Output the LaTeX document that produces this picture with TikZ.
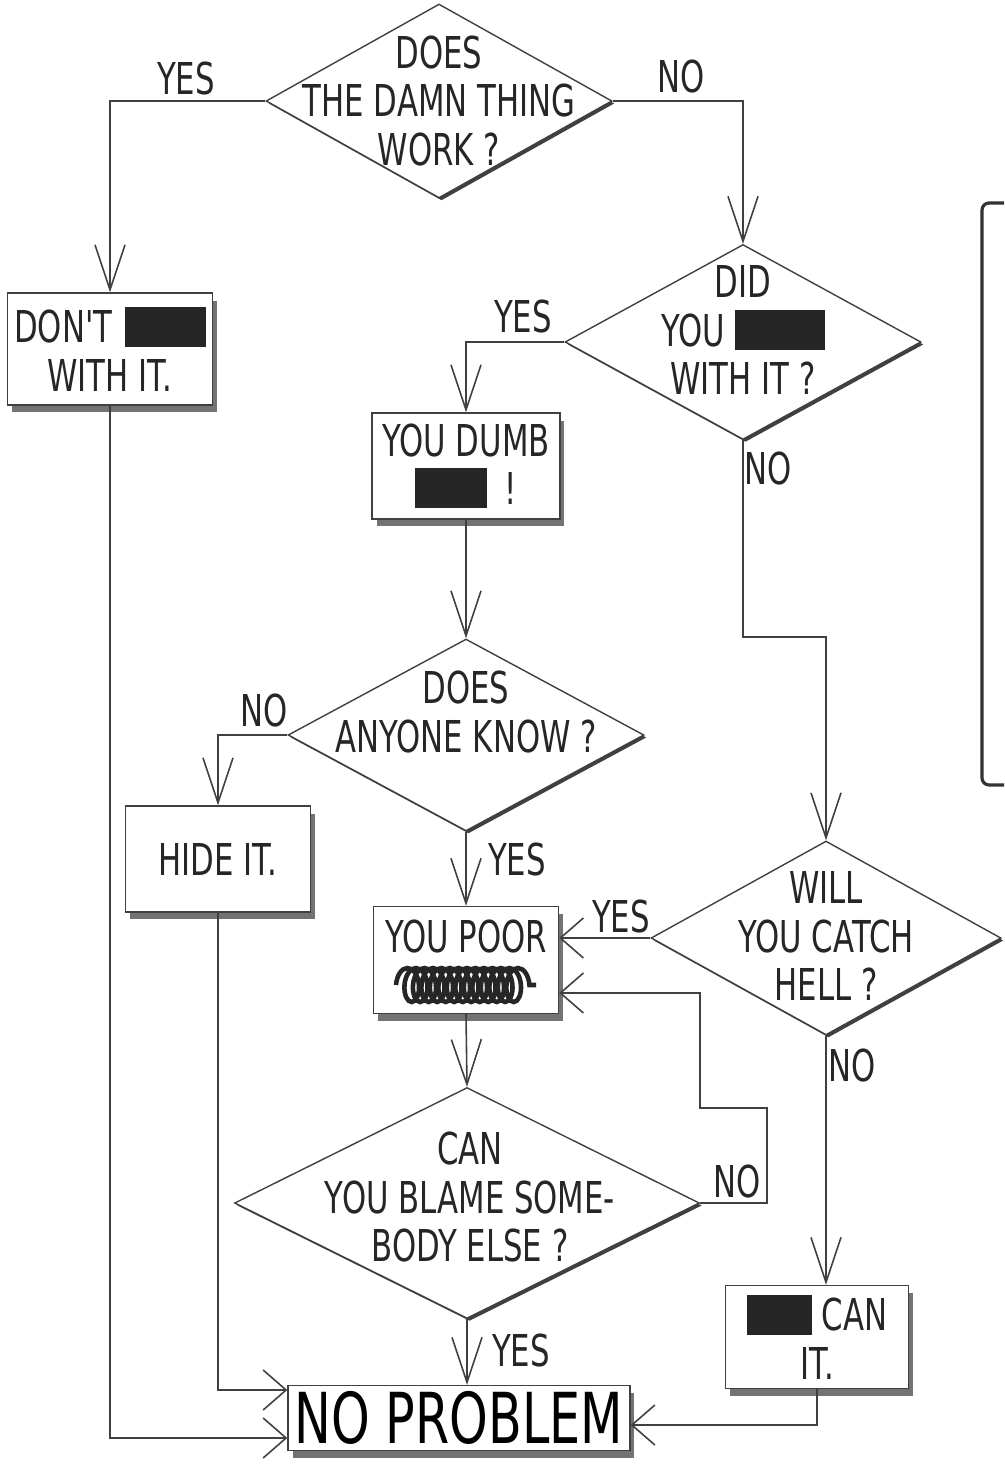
\documentclass[tikz,border=0pt]{standalone}
\usepackage{fontspec}
\usepackage{tikz}
\usetikzlibrary{shapes.geometric,shadows,arrows.meta,decorations.pathmorphing}
\newfontfamily\dotfont[FakeStretch=0.7]{DejaVu Sans}
\newcommand{\chartfont}{\dotfont\fontsize{25}{27.5}\selectfont}
\newcommand{\bigchartfont}{\dotfont\fontsize{40}{42}\selectfont}
\newcommand{\blackout}[1]{\rule[-0.08cm]{#1}{0.8cm}}
\begin{document}
\begin{tikzpicture}[x=0.02cm, y=-0.02cm,
    decision/.style={diamond, draw=black!75, line width=0.8pt, fill=white, inner sep=0pt,
        drop shadow={shadow xshift=0.05cm, shadow yshift=-0.05cm, fill=black!75, opacity=1}},
    card/.style={rectangle, draw=black!75, line width=0.8pt, fill=white, align=center,
        font=\chartfont, text=black!85, inner sep=0pt,
        drop shadow={shadow xshift=0.09cm, shadow yshift=-0.15cm, fill=black!55, opacity=1}},
    question/.style={align=center, font=\chartfont, text=black!85, inner sep=0pt},
    answer/.style={font=\chartfont, text=black!85, inner sep=0pt},
    vflow/.style={draw=black!75, line width=0.9pt, -{Straight Barb[length=0.9cm, width=0.6cm]}},
    hflow/.style={draw=black!75, line width=0.9pt, -{Straight Barb[length=0.46cm, width=0.8cm]}},
    scribble/.style={draw=black!85, line width=2.6pt, decorate,
        decoration={coil, amplitude=0.34cm, segment length=0.17cm, aspect=0.55}}]

\useasboundingbox (0,0) rectangle (1004,1469);

% Decisions
\node[decision, minimum width=6.92cm, minimum height=3.88cm] (q1) at (439,101) {};
\node[decision, minimum width=7.12cm, minimum height=3.9cm]  (q2) at (743,342) {};
\node[decision, minimum width=7.12cm, minimum height=3.84cm] (q3) at (466,735) {};
\node[decision, minimum width=7.0cm,  minimum height=3.88cm] (q4) at (826,938) {};
\node[decision, minimum width=9.3cm,  minimum height=4.62cm] (q5) at (467,1203) {};

% Decision texts
\node[question] (q1text) at (439,101) {DOES\\THE DAMN THING\\WORK ?};
\node[question] (q2text) at (743,330) {DID\\YOU \blackout{1.8cm}\\WITH IT ?};
\node[question] (q3text) at (466,712) {DOES\\ANYONE KNOW ?};
\node[question] (q4text) at (826,936) {WILL\\YOU CATCH\\HELL ?};
\node[question] (q5text) at (470,1197) {CAN\\YOU BLAME SOME-\\BODY ELSE ?};

% Boxes
\node[card, minimum width=4.1cm, minimum height=2.24cm] (dont) at (110,349)
    {DON'T\hspace{0.25cm}\blackout{1.62cm}\\WITH IT.};
\node[card, minimum width=3.76cm, minimum height=2.12cm] (dumb) at (466,466)
    {YOU DUMB\\\blackout{1.44cm}\hspace{0.34cm}!};
\node[card, minimum width=3.7cm, minimum height=2.12cm] (hide) at (218,859) {HIDE IT.};
\node[card, minimum width=3.7cm, minimum height=2.14cm] (poor) at (466,960)
    {YOU POOR\\\phantom{X}};
\node[card, minimum width=3.66cm, minimum height=2.06cm] (canit) at (817,1337)
    {\blackout{1.3cm} CAN\\IT.};
\node[card, font=\bigchartfont, text=black, minimum width=6.84cm, minimum height=1.3cm]
    (prob) at (459,1418) {NO PROBLEM};

% Scribbled-out word
\draw[scribble] (396,985) -- (536,985);

% Hand-drawn frame at the right edge
\draw[line width=1.8pt, black!80, rounded corners=4pt]
    (1004,203) -- (982,203) -- (982,785) -- (1004,785);

% Answers
\node[answer] (yes1) at (186,79)   {YES};
\node[answer] (no1)  at (681,77)   {NO};
\node[answer] (yes2) at (523,317)  {YES};
\node[answer] (no2)  at (768,469)  {NO};
\node[answer] (no3)  at (264,711)  {NO};
\node[answer] (yes3) at (517,860)  {YES};
\node[answer] (yes4) at (621,917)  {YES};
\node[answer] (no4)  at (852,1065) {NO};
\node[answer] (no5)  at (737,1181) {NO};
\node[answer] (yes5) at (521,1350) {YES};

% Flow
\coordinate (nojog) at (743,637);
\coordinate (loopa) at (767,1108);
\coordinate (loopb) at (700,993);
\draw[vflow] (q1.west) -| (dont.north);
\draw[vflow] (q1.east) -| (q2.north);
\draw[vflow] (q2.west) -| (dumb.north);
\draw[vflow] (dumb.south) -- (q3.north);
\draw[vflow] (q3.west) -| (hide.north);
\draw[vflow] (q3.south) -- (poor.north);
\draw[vflow] (q2.south) -- (nojog) -| (q4.north);
\draw[hflow] (q4.west) -- (q4.west -| poor.east);
\draw[vflow] (q4.south) -- (q4.south |- canit.north);
\draw[hflow] (q5.east) -| (loopa) -| (loopb) -- (loopb -| poor.east);
\draw[vflow] (poor.south) -- (q5.north);
\draw[vflow] (q5.south) -- (q5.south |- prob.north);
\draw[hflow] (dont.south) |- ([yshift=-0.4cm]prob.west);
\draw[hflow] (hide.south) |- ([yshift=0.56cm]prob.west);
\draw[hflow] (canit.south) |- ([yshift=-0.14cm]prob.east);

\end{tikzpicture}
\end{document}
